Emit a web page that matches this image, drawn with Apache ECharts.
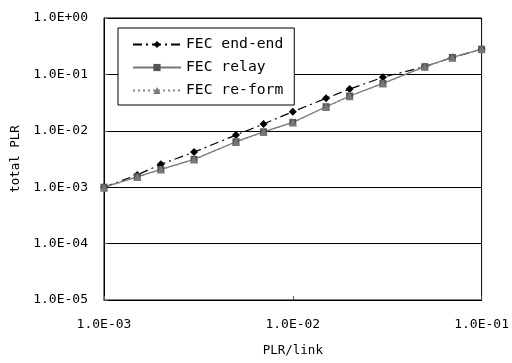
<!DOCTYPE html>
<html>
<head>
<meta charset="utf-8">
<script src="https://cdn.jsdelivr.net/npm/echarts@6/dist/echarts.min.js"></script>
<style>
html,body{margin:0;padding:0;background:#fff;}
#chart{width:512px;height:363px;}
</style>
</head>
<body>
<div id="chart"></div>
<script>
const xValues = [0.001, 0.0015, 0.002, 0.003, 0.005, 0.007, 0.01, 0.015, 0.02, 0.03, 0.05, 0.07, 0.1];
const endEnd = [0.001, 0.00165, 0.00255, 0.0042, 0.0084, 0.0132, 0.0218, 0.0377, 0.055, 0.089, 0.137, 0.2, 0.279];
const relay = [0.001, 0.00153, 0.00207, 0.00312, 0.0064, 0.0096, 0.0141, 0.0267, 0.0414, 0.0695, 0.137, 0.2, 0.28];
const reform = [0.00098, 0.00152, 0.00205, 0.0031, 0.0063, 0.0095, 0.014, 0.0265, 0.041, 0.069, 0.136, 0.198, 0.278];
const seriesNames = ['FEC end-end', 'FEC relay', 'FEC re-form'];
const xTickLabels = {'-3': '1.0E-03', '-2': '1.0E-02', '-1': '1.0E-01'};
const yTickLabels = {'-5': '1.0E-05', '-4': '1.0E-04', '-3': '1.0E-03', '-2': '1.0E-02', '-1': '1.0E-01', '0': '1.0E+00'};

const pairs = ys => xValues.map((x, i) => [x, ys[i]]);
const fmt = table => v => { const e = Math.round(Math.log10(v)); return table[String(e)] || ''; };
const font = "'DejaVu Sans Mono', monospace";

const chart = echarts.init(document.getElementById('chart'), null, {renderer: 'canvas'});
chart.setOption({
  animation: false,
  backgroundColor: '#fff',
  textStyle: {fontFamily: font, color: '#000'},
  grid: {left: 104, right: 29, top: 18, bottom: 63, show: true, borderColor: '#000', borderWidth: 1, backgroundColor: 'transparent'},
  legend: {
    orient: 'vertical', left: 118, top: 28,
    padding: [9, 11, 7, 14], itemGap: 8, itemWidth: 48, itemHeight: 9,
    borderColor: '#000', borderWidth: 1, backgroundColor: '#fff',
    textStyle: {fontFamily: font, fontSize: 14.7, color: '#000'},
    data: seriesNames
  },
  xAxis: {
    type: 'log', logBase: 10, min: 0.001, max: 0.1,
    name: 'PLR/link', nameLocation: 'middle', nameGap: 44,
    nameTextStyle: {fontFamily: font, fontSize: 12.5, color: '#000'},
    axisLine: {show: true, lineStyle: {color: '#000', width: 1}},
    axisTick: {show: true, inside: true, length: 4, lineStyle: {color: '#555'}},
    minorTick: {show: false},
    splitLine: {show: false},
    axisLabel: {formatter: fmt(xTickLabels), margin: 18, fontFamily: font, fontSize: 13, color: '#000'}
  },
  yAxis: {
    type: 'log', logBase: 10, min: 1e-5, max: 1,
    name: 'total PLR', nameLocation: 'middle', nameGap: 82, nameRotate: 90,
    nameTextStyle: {fontFamily: font, fontSize: 12.5, color: '#000'},
    axisLine: {show: true, lineStyle: {color: '#000', width: 1}},
    axisTick: {show: true, inside: true, length: 4, lineStyle: {color: '#555'}},
    splitLine: {show: true, lineStyle: {color: '#000', width: 1}},
    axisLabel: {formatter: fmt(yTickLabels), margin: 16, fontFamily: font, fontSize: 13, color: '#000'}
  },
  series: [
    {
      name: seriesNames[0], type: 'line', data: pairs(endEnd),
      symbol: 'diamond', symbolSize: 8,
      itemStyle: {color: '#000'},
      lineStyle: {color: '#000', width: 1.2, type: [9, 4, 2, 4]}
    },
    {
      name: seriesNames[1], type: 'line', data: pairs(relay),
      symbol: 'rect', symbolSize: 7,
      itemStyle: {color: '#555'},
      lineStyle: {color: '#777', width: 1.3, type: 'solid'}
    },
    {
      name: seriesNames[2], type: 'line', data: pairs(reform),
      symbol: 'triangle', symbolSize: 8,
      itemStyle: {color: '#777'},
      lineStyle: {color: '#888', width: 1.2, type: [2, 3]}
    }
  ]
});
</script>
</body>
</html>
